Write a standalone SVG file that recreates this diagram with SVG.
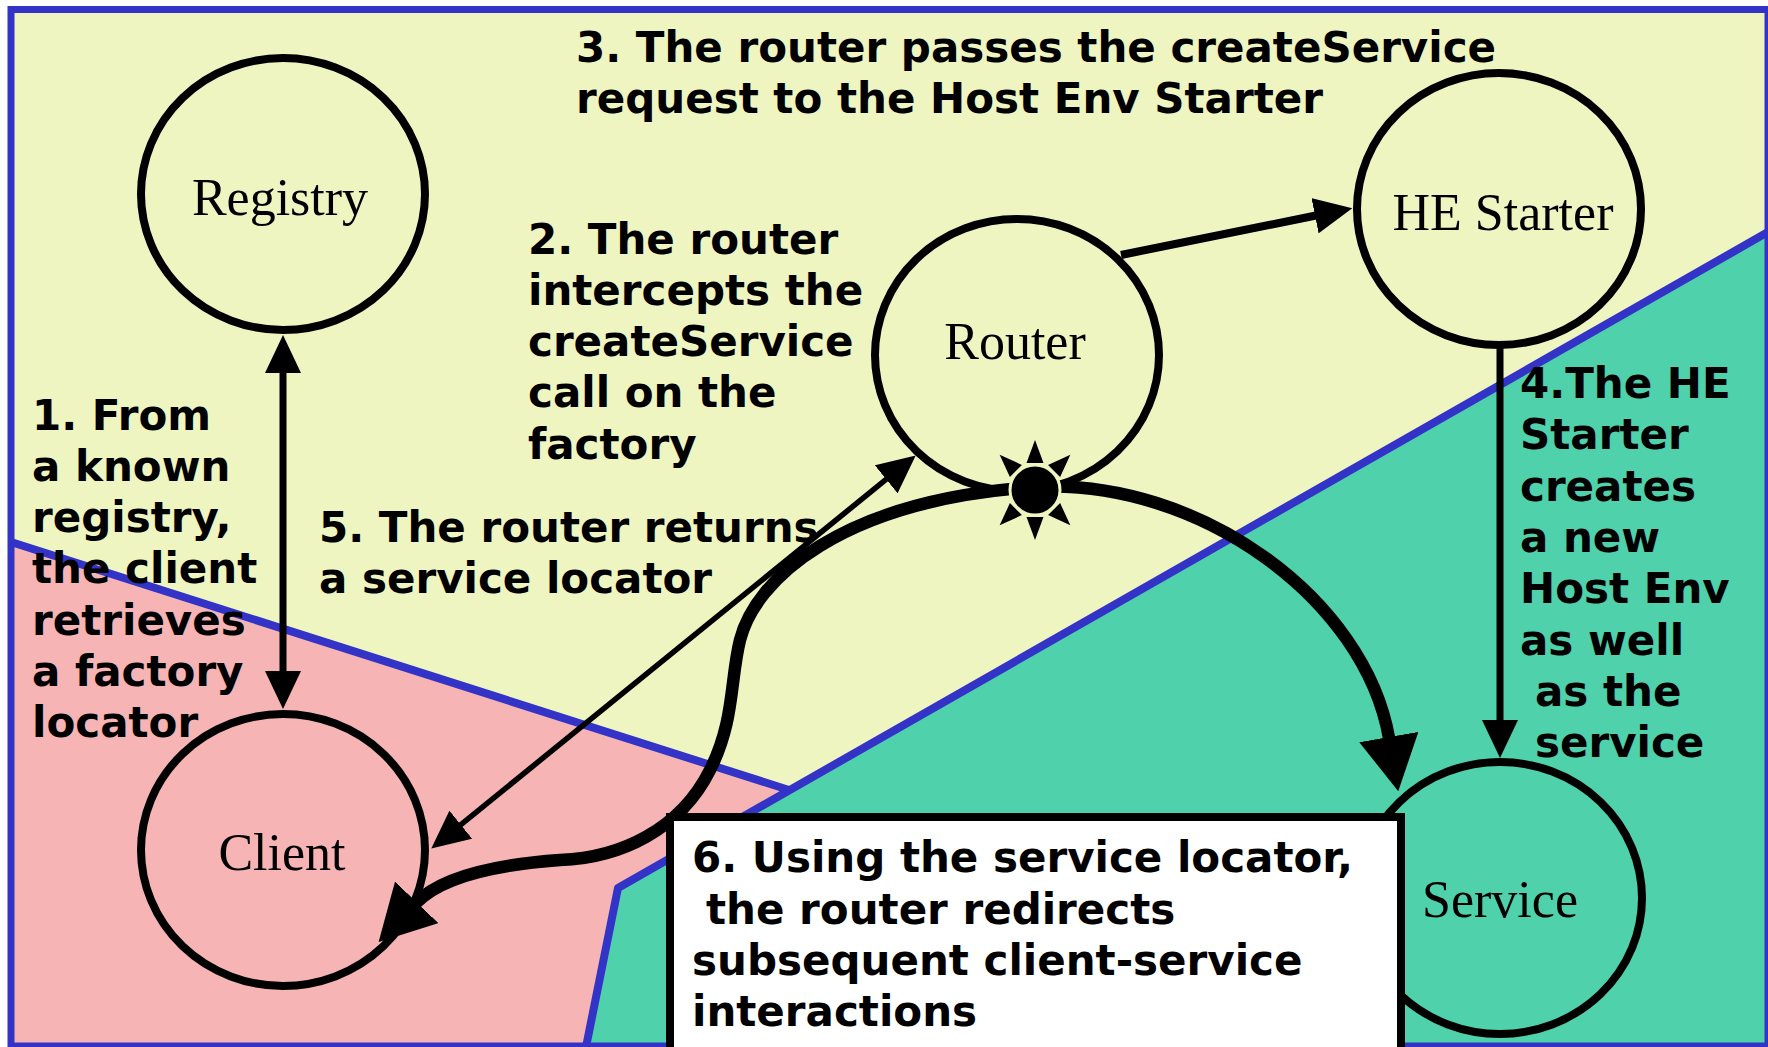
<svg xmlns="http://www.w3.org/2000/svg" width="1768" height="1047" viewBox="0 0 1768 1047">
  <style>
    .node { fill: none; stroke: #000; stroke-width: 8; }
    .nlabel { font-family: "Liberation Serif", "Times New Roman", serif; font-size: 52px; fill: #000; text-anchor: middle; }
    .step { font-family: "DejaVu Sans", Verdana, sans-serif; font-weight: bold; font-size: 42px; fill: #000; }
    .bound { fill: none; stroke: #3333c8; stroke-width: 8; stroke-linejoin: round; }
    .conn { fill: none; stroke: #000; }
  </style>
  <defs>
    <marker id="arr" markerUnits="userSpaceOnUse" viewBox="0 0 38 36" markerWidth="38" markerHeight="36" refX="1" refY="18" orient="auto-start-reverse">
      <path d="M0,0 L38,18 L0,36 z" fill="#000"/>
    </marker>
    <marker id="bigarr" markerUnits="userSpaceOnUse" viewBox="0 0 55 60" markerWidth="55" markerHeight="60" refX="1" refY="30" orient="auto-start-reverse">
      <path d="M0,0 L55,30 L0,60 z" fill="#000"/>
    </marker>
  </defs>

  <!-- background regions -->
  <rect x="0" y="0" width="1768" height="1047" fill="#ffffff"/>
  <rect x="11" y="9.5" width="1757" height="1036.5" fill="#eef5c0"/>
  <polygon points="11,542 789,790 618,888 586,1047 11,1047" fill="#f6b4b4"/>
  <polygon points="1768,232 618,888 586,1047 1768,1047" fill="#4fd1ab"/>
  <polyline class="bound" points="11,542 789,790"/>
  <polyline class="bound" points="1768,232 618,888 586,1047"/>
  <rect x="11" y="9.5" width="1757" height="1036.5" fill="none" stroke="#3333c8" stroke-width="7"/>

  <!-- nodes -->
  <g id="registry">
    <ellipse class="node" cx="283" cy="194" rx="142" ry="136"/>
    <text class="nlabel" x="280" y="215">Registry</text>
  </g>
  <g id="router">
    <ellipse class="node" cx="1017" cy="355" rx="142" ry="136"/>
    <text class="nlabel" x="1015" y="359">Router</text>
  </g>
  <g id="he-starter">
    <ellipse class="node" cx="1499" cy="209" rx="142" ry="136"/>
    <text class="nlabel" x="1503" y="230">HE Starter</text>
  </g>
  <g id="client">
    <ellipse class="node" cx="283" cy="850" rx="142" ry="136"/>
    <text class="nlabel" x="282" y="870">Client</text>
  </g>
  <g id="service">
    <ellipse class="node" cx="1500" cy="898" rx="142" ry="136"/>
    <text class="nlabel" x="1500" y="917">Service</text>
  </g>

  <!-- connectors -->
  <g id="connectors">
    <line class="conn" x1="283" y1="372" x2="283" y2="672" stroke-width="7" marker-start="url(#arr)" marker-end="url(#arr)"/>
    <line class="conn" x1="1121" y1="255" x2="1316" y2="215.5" stroke-width="8" marker-end="url(#arr)"/>
    <line class="conn" x1="1500" y1="347" x2="1500" y2="721" stroke-width="7" marker-end="url(#arr)"/>
    <line class="conn" x1="460" y1="825.3" x2="887" y2="478.7" stroke-width="5.5" marker-start="url(#arr)" marker-end="url(#arr)"/>
    <path class="conn" stroke-width="12.5" d="M416,903 C440,878 490,865 560,860 C620,858 680,830 710,770 C735,720 730,680 740,640 C755,580 840,500 1035,487 C1200,478 1365,600 1389,738" marker-start="url(#bigarr)" marker-end="url(#bigarr)"/>
  </g>

  <!-- sun symbol on the router -->
  <g id="intercept" transform="translate(1035,490)">
    <circle r="25" fill="#000" stroke="#eef5c0" stroke-width="3"/>
    <polygon points="0,-50 -8.5,-27 8.5,-27" fill="#000"/>
    <polygon points="0,-50 -8.5,-27 8.5,-27" fill="#000" transform="rotate(45)"/>
    <polygon points="0,-50 -8.5,-27 8.5,-27" fill="#000" transform="rotate(135)"/>
    <polygon points="0,-50 -8.5,-27 8.5,-27" fill="#000" transform="rotate(180)"/>
    <polygon points="0,-50 -8.5,-27 8.5,-27" fill="#000" transform="rotate(225)"/>
    <polygon points="0,-50 -8.5,-27 8.5,-27" fill="#000" transform="rotate(315)"/>
  </g>

  <!-- step labels -->
  <g id="step1">
    <text class="step" x="32" y="430">1. From</text>
    <text class="step" x="32" y="481">a known</text>
    <text class="step" x="32" y="532">registry,</text>
    <text class="step" x="32" y="583">the client</text>
    <text class="step" x="32" y="635">retrieves</text>
    <text class="step" x="32" y="686">a factory</text>
    <text class="step" x="32" y="737">locator</text>
  </g>
  <g id="step2">
    <text class="step" x="528" y="254">2. The router</text>
    <text class="step" x="528" y="305">intercepts the</text>
    <text class="step" x="528" y="356">createService</text>
    <text class="step" x="528" y="407">call on the</text>
    <text class="step" x="528" y="459">factory</text>
  </g>
  <g id="step3">
    <text class="step" x="576" y="62">3. The router passes the createService</text>
    <text class="step" x="576" y="113">request to the Host Env Starter</text>
  </g>
  <g id="step4">
    <text class="step" x="1520" y="398">4.The HE</text>
    <text class="step" x="1520" y="449">Starter</text>
    <text class="step" x="1520" y="501">creates</text>
    <text class="step" x="1520" y="552">a new</text>
    <text class="step" x="1520" y="603">Host Env</text>
    <text class="step" x="1520" y="655">as well</text>
    <text class="step" x="1535" y="706">as the</text>
    <text class="step" x="1535" y="757">service</text>
  </g>
  <g id="step5">
    <text class="step" x="319" y="542">5. The router returns</text>
    <text class="step" x="319" y="593">a service locator</text>
  </g>
  <g id="step6">
    <rect x="670" y="817" width="731" height="245" fill="#ffffff" stroke="#000" stroke-width="8"/>
    <text class="step" x="692" y="872">6. Using the service locator,</text>
    <text class="step" x="706" y="924">the router redirects</text>
    <text class="step" x="692" y="975">subsequent client-service</text>
    <text class="step" x="692" y="1026">interactions</text>
  </g>
</svg>
